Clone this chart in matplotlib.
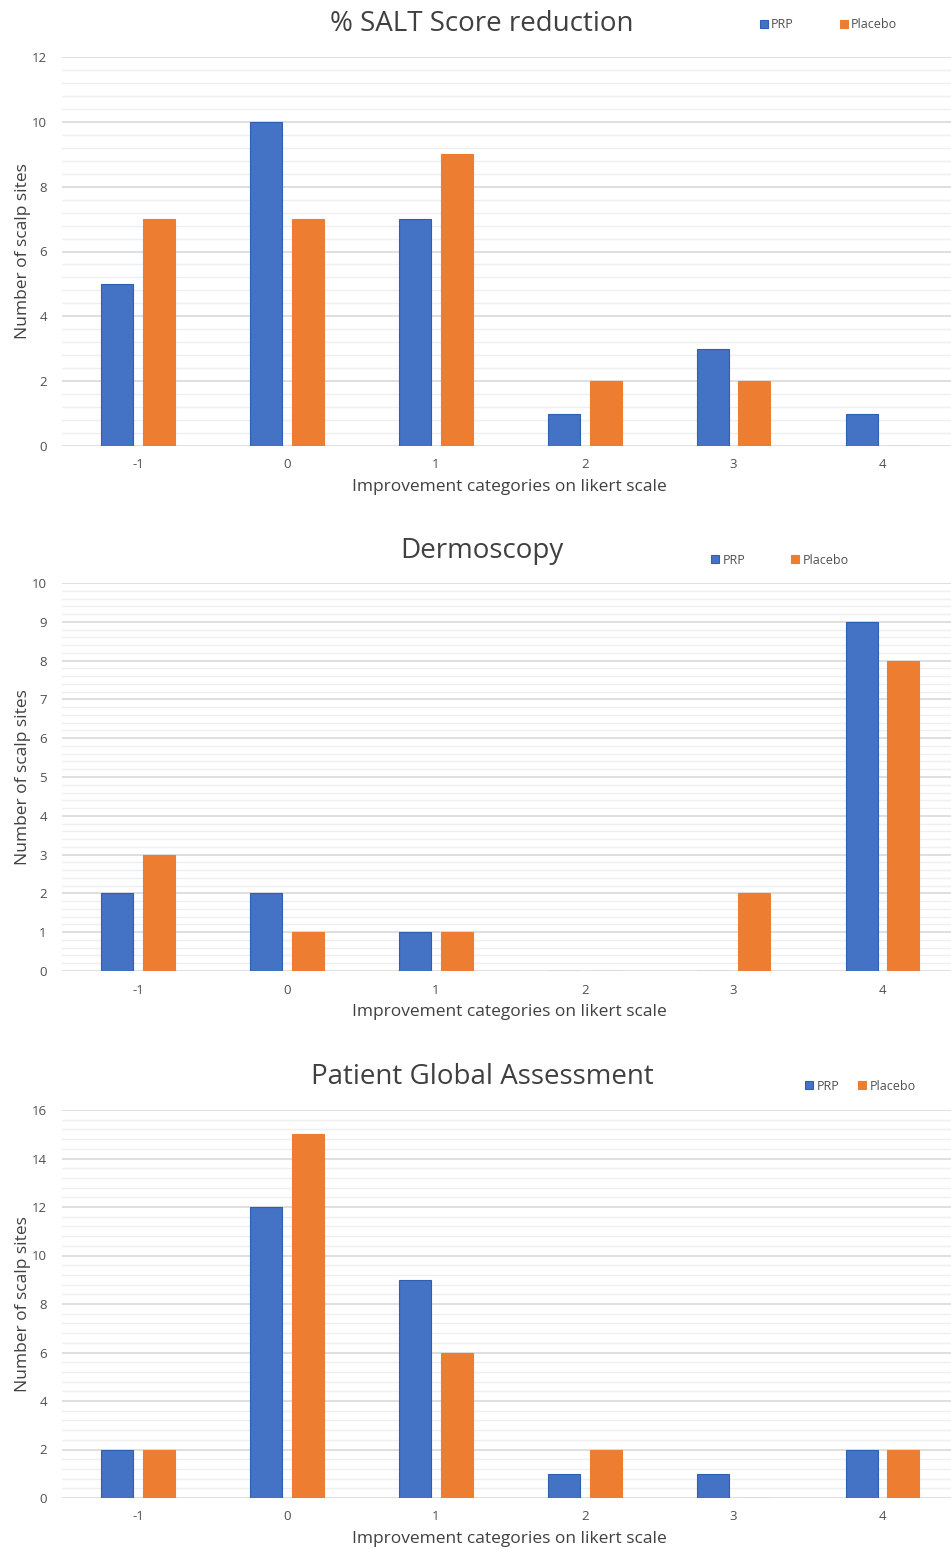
import matplotlib
matplotlib.use("Agg")
import matplotlib.pyplot as plt
from matplotlib.ticker import MultipleLocator
import numpy as np

plt.rcParams['font.family'] = ['Open Sans', 'DejaVu Sans']

categories = ["-1", "0", "1", "2", "3", "4"]

salt_prp = [5, 10, 7, 1, 3, 1]
salt_placebo = [7, 7, 9, 2, 2, 0]

derm_prp = [2, 2, 1, 0, 0, 9]
derm_placebo = [3, 1, 1, 0, 2, 8]

pga_prp = [2, 12, 9, 1, 1, 2]
pga_placebo = [2, 15, 6, 2, 0, 2]

titles = ["% SALT Score reduction", "Dermoscopy", "Patient Global Assessment"]
xlabel = "Improvement categories on likert scale"
ylabel = "Number of scalp sites"

BLUE = "#4472C4"
BLUE_EDGE = "#2F5FB3"
ORANGE = "#ED7D31"
GRID_MAJOR = "#D9D9D9"
GRID_MINOR = "#EFEFEF"
TXT = "#505050"

W, H = 951, 1550
fig = plt.figure(figsize=(W / 100, H / 100), dpi=100)

panels = [
    dict(prp=salt_prp, plc=salt_placebo, top=57, bot=446, ymax=12, major=2, minor=0.4,
         title_y=24, leg_x=760, leg_y=25, colsp=3.68),
    dict(prp=derm_prp, plc=derm_placebo, top=583, bot=971, ymax=10, major=1, minor=0.2,
         title_y=551, leg_x=711, leg_y=560, colsp=3.68),
    dict(prp=pga_prp, plc=pga_placebo, top=1110, bot=1498, ymax=16, major=2, minor=0.4,
         title_y=1077, leg_x=805, leg_y=1086, colsp=1.55),
]

left_px = 62
x = np.arange(len(categories))
bw = 0.215
off = 0.14

for title, p in zip(titles, panels):
    h_px = p["bot"] - p["top"]
    ax = fig.add_axes([left_px / W, 1 - p["bot"] / H, (W - left_px) / W, h_px / H])
    ax.set_xlim(-0.51, 5.46)
    ax.set_ylim(0, p["ymax"])
    ax.yaxis.set_major_locator(MultipleLocator(p["major"]))
    ax.yaxis.set_minor_locator(MultipleLocator(p["minor"]))
    ax.grid(which="major", axis="y", color=GRID_MAJOR, linewidth=1.2, zorder=0)
    ax.grid(which="minor", axis="y", color=GRID_MINOR, linewidth=1.0, zorder=0)
    ax.set_axisbelow(True)
    for s in ax.spines.values():
        s.set_visible(False)
    b1 = ax.bar(x - off, p["prp"], width=bw, color=BLUE, edgecolor=BLUE_EDGE, linewidth=0.8,
                label="PRP", zorder=3)
    b2 = ax.bar(x + off, p["plc"], width=bw, color=ORANGE, edgecolor=ORANGE, linewidth=0.8,
                label="Placebo", zorder=3)
    ax.set_xticks(x)
    ax.set_xticklabels(categories)
    ax.tick_params(axis="both", which="both", length=0, colors=TXT, labelsize=9.5)
    ax.tick_params(axis="x", pad=9)
    ax.tick_params(axis="y", pad=11)
    ax.set_xlabel(xlabel, fontsize=12.5, color="#404040")
    ax.xaxis.set_label_coords((509 - left_px) / (W - left_px), -33 / h_px)
    ax.set_ylabel(ylabel, fontsize=12.5, color="#404040")
    ax.yaxis.set_label_coords(-31 / (W - left_px), 0.5)

    fig.text(482 / W, 1 - p["title_y"] / H, title, fontsize=20, color="#404040",
             ha="center", va="center")
    fig.legend(handles=[b1, b2], labels=["PRP", "Placebo"], loc="center left",
               bbox_to_anchor=(p["leg_x"] / W, 1 - p["leg_y"] / H), ncol=2, frameon=False,
               fontsize=9, labelcolor=TXT, handlelength=0.6, handleheight=0.6,
               handletextpad=0.3, columnspacing=p["colsp"], borderaxespad=0, borderpad=0)

fig.savefig("out.png", dpi=100, facecolor="white")
